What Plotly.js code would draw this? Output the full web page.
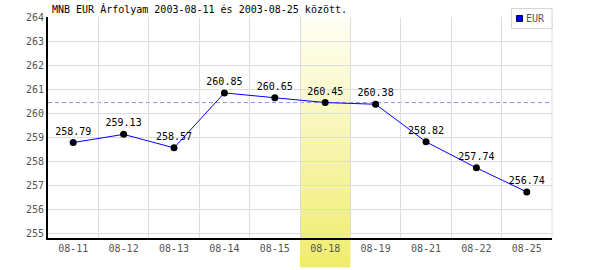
<!DOCTYPE html>
<html>
<head>
<meta charset="utf-8">
<script src="https://cdn.plot.ly/plotly-3.0.1.min.js"></script>
<style>html,body{margin:0;padding:0;background:#fff;}#chart{width:600px;height:270px;}</style>
</head>
<body>
<div id="chart"></div>
<script>
var categories = ["08-11","08-12","08-13","08-14","08-15","08-18","08-19","08-21","08-22","08-25"];
var eurValues = [258.79, 259.13, 258.57, 260.85, 260.65, 260.45, 260.38, 258.82, 257.74, 256.74];
var highlightCategory = "08-18";
var seriesName = "EUR";
var titleText = "MNB EUR Árfolyam 2003-08-11 és 2003-08-25 között.";

var mono = "DejaVu Sans Mono, monospace";
var n = categories.length;
var hIdx = categories.indexOf(highlightCategory);
var hVal = eurValues[hIdx];
var yRange = [254.83, 264];

// plot area geometry (pixels) for decorations
var ML = 48, MR = 48, MT = 17, MB = 32, W = 600, H = 270;
var PW = W - ML - MR, PH = H - MT - MB;
function px(xp){ return (xp - ML) / PW; }
function py(yp){ return (H - MB - yp) / PH; }

var shapes = [];
var slices = 40;
var colTop = [255,255,244], colBot = [240,236,108];
var yTopPaper = 1, yBotPaper = py(267);
for (var i = 0; i < slices; i++) {
  var t = (i + 0.5) / slices;
  var c = colTop.map(function(v, k){ return Math.round(v + (colBot[k]-v)*t); });
  var y1 = yTopPaper - (yTopPaper - yBotPaper) * i / slices;
  var y0 = yTopPaper - (yTopPaper - yBotPaper) * (i + 1) / slices;
  shapes.push({type:'rect', layer:'between', xref:'paper', yref:'paper',
    x0: hIdx / n, x1: (hIdx + 1) / n, y0: y0 - 0.002, y1: y1,
    fillcolor: 'rgb(' + c.join(',') + ')', line:{width:0}});
}
shapes.push({type:'line', layer:'between', xref:'paper', yref:'y', x0:0, x1:1, y0:hVal, y1:hVal,
  line:{color:'#9090ff', width:1, dash:'4px,3px'}});
shapes.push({type:'line', layer:'below', xref:'paper', yref:'paper', x0:1, x1:1, y0:0, y1:1,
  line:{color:'#dcdcdc', width:1}});
// legend box
shapes.push({type:'rect', layer:'above', xref:'paper', yref:'paper',
  x0:px(511.5), x1:px(552), y0:py(28.5), y1:py(8.5),
  fillcolor:'#ffffff', line:{color:'#d4d4d4', width:1}});
shapes.push({type:'rect', layer:'above', xref:'paper', yref:'paper',
  x0:px(516.5), x1:px(522.5), y0:py(21.5), y1:py(15.5),
  fillcolor:'#0000ff', line:{color:'#000050', width:1}});

var traces = [
  {x: categories, y: eurValues, type:'scatter', mode:'lines+markers+text',
   showlegend:false, cliponaxis:false,
   line:{color:'#0000ff', width:1},
   marker:{color:'#000000', size:7},
   texttemplate:'%{y:.2f}', textposition:'top center',
   textfont:{family:mono, size:10, color:'#000000'}, hoverinfo:'skip'}
];

var layout = {
  width:W, height:H,
  margin:{l:ML, r:MR, t:MT, b:MB},
  paper_bgcolor:'#ffffff', plot_bgcolor:'#ffffff',
  title:{text:titleText, font:{family:mono, size:10, color:'#000000'},
    x:52/600, xanchor:'left', xref:'container', y:1-9/270, yanchor:'middle', yref:'container'},
  xaxis:{type:'category', range:[-0.5, n-0.5], tickson:'boundaries',
    showgrid:true, gridcolor:'#dcdcdc', gridwidth:1,
    showline:true, linecolor:'#000000', linewidth:2, ticks:'',
    tickfont:{family:mono, size:10, color:'#555555'}, fixedrange:true},
  yaxis:{range:yRange, dtick:1, tick0:255, showgrid:true, gridcolor:'#dcdcdc', gridwidth:1,
    showline:true, linecolor:'#000000', linewidth:2, ticks:'', zeroline:false,
    tickfont:{family:mono, size:10, color:'#555555'}, fixedrange:true},
  showlegend:false,
  annotations:[{text: seriesName, xref:'paper', yref:'paper', x:px(523.5), y:py(18.5),
    xanchor:'left', yanchor:'middle', showarrow:false,
    font:{family:mono, size:10, color:'#555555'}}],
  shapes: shapes,
  hovermode:false
};

Plotly.newPlot('chart', traces, layout, {staticPlot:true, displayModeBar:false});
</script>
</body>
</html>
